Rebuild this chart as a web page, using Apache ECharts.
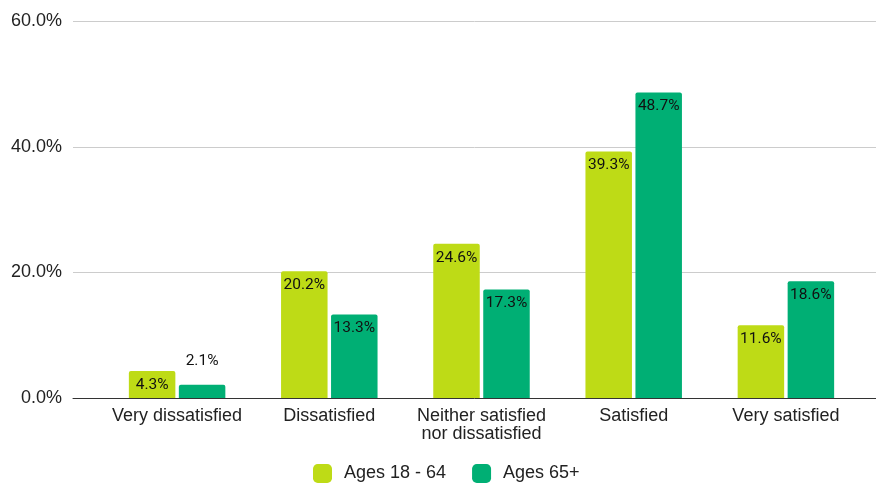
<!DOCTYPE html>
<html>
<head>
<meta charset="utf-8">
<script src="https://cdn.jsdelivr.net/npm/echarts@6/dist/echarts.min.js"></script>
<style>
  html, body { margin: 0; padding: 0; background: #fff; }
  #chart { width: 876px; height: 483px; }
</style>
</head>
<body>
<div id="chart"></div>
<script>
// Satisfaction levels by age group (percent of respondents)
const categories = ['Very dissatisfied', 'Dissatisfied', 'Neither satisfied\nnor dissatisfied', 'Satisfied', 'Very satisfied'];
const seriesNames = ['Ages 18 - 64', 'Ages 65+'];
const ages18to64 = [4.3, 20.2, 24.6, 39.3, 11.6];
const ages65plus = [2.1, 13.3, 17.3, 48.7, 18.6];
const yTicks = [0, 20, 40, 60];

const colors = ['#bedb16', '#00af74'];
const axisFont = 'Liberation Sans, Arial, sans-serif';

// Short bars get their value printed above instead of inside
function toItems(values) {
  return values.map(v => v < 3 ? { value: v, label: { position: 'top', distance: 16 } } : v);
}

function barSeries(name, values, color) {
  return {
    name: name,
    type: 'bar',
    xAxisIndex: 1,
    yAxisIndex: 1,
    data: toItems(values),
    barWidth: 46.5,
    barGap: '7.5%',
    itemStyle: { color: color, borderRadius: [2, 2, 0, 0] },
    label: {
      show: true,
      position: 'insideTop',
      distance: 6,
      formatter: p => p.value.toFixed(1) + '%',
      fontFamily: 'Roboto, sans-serif',
      fontSize: 15.5,
      color: '#111'
    },
    emphasis: { disabled: true }
  };
}

const chart = echarts.init(document.getElementById('chart'), null, { renderer: 'canvas' });
chart.setOption({
  animation: false,
  grid: [
    { left: 73, right: 0, top: 21.5, bottom: 85 },
    { left: 101, right: 14, top: 21.5, bottom: 85 }
  ],
  xAxis: [
    {
      gridIndex: 0, type: 'value', min: 0, max: 1,
      axisLine: { show: true, onZero: false, lineStyle: { color: '#333', width: 1 } },
      axisTick: { show: false }, axisLabel: { show: false }, splitLine: { show: false }
    },
    {
      gridIndex: 1, type: 'category', data: categories,
      axisLine: { show: false }, axisTick: { show: false },
      axisLabel: { fontFamily: axisFont, fontSize: 18, color: '#222', margin: 9, lineHeight: 18, interval: 0 }
    }
  ],
  yAxis: [
    {
      gridIndex: 0, type: 'value', min: yTicks[0], max: yTicks[yTicks.length - 1], interval: yTicks[1] - yTicks[0],
      axisLine: { show: false }, axisTick: { show: false },
      axisLabel: { formatter: v => v.toFixed(1) + '%', fontFamily: axisFont, fontSize: 18, color: '#222', margin: 11 },
      splitLine: { lineStyle: { color: '#cccccc', width: 1 } }
    },
    {
      gridIndex: 1, type: 'value', min: yTicks[0], max: yTicks[yTicks.length - 1],
      show: false, splitLine: { show: false }
    }
  ],
  legend: {
    bottom: 0,
    left: 313,
    padding: 0,
    icon: 'roundRect',
    itemWidth: 19,
    itemHeight: 19,
    itemGap: 26,
    textStyle: { fontFamily: axisFont, fontSize: 18, color: '#222', padding: [0, 0, 0, 7] },
    data: seriesNames
  },
  series: [
    barSeries(seriesNames[0], ages18to64, colors[0]),
    barSeries(seriesNames[1], ages65plus, colors[1])
  ]
});
</script>
</body>
</html>
